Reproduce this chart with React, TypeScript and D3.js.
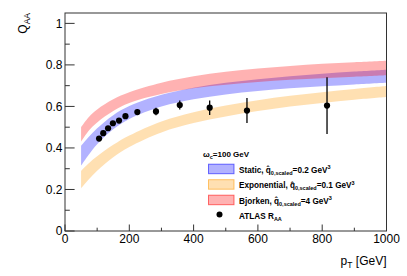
import React from "react";
import * as d3 from "d3";

const W = 407;
const H = 276;

const bandPt = [50, 75, 100, 150, 200, 300, 400, 500, 600, 700, 800, 900, 1000];
const staticHi = [0.41, 0.455, 0.495, 0.558, 0.602, 0.656, 0.69, 0.714, 0.731, 0.745, 0.757, 0.768, 0.777];
const staticLo = [0.315, 0.37, 0.418, 0.49, 0.54, 0.6, 0.635, 0.658, 0.674, 0.687, 0.697, 0.706, 0.714];
const expoHi = [0.29, 0.328, 0.36, 0.415, 0.46, 0.528, 0.572, 0.604, 0.63, 0.651, 0.668, 0.684, 0.698];
const expoLo = [0.205, 0.25, 0.29, 0.355, 0.405, 0.475, 0.52, 0.552, 0.578, 0.6, 0.617, 0.632, 0.645];
const bjHi = [0.5, 0.55, 0.585, 0.634, 0.668, 0.714, 0.745, 0.767, 0.783, 0.795, 0.805, 0.813, 0.82];
const bjLo = [0.43, 0.485, 0.523, 0.578, 0.617, 0.66, 0.688, 0.705, 0.718, 0.728, 0.736, 0.743, 0.75];

const atlasPt = [106, 119, 134, 149, 168, 188, 225, 283, 357, 450, 566, 815];
const atlasR = [0.445, 0.471, 0.495, 0.519, 0.532, 0.553, 0.573, 0.576, 0.607, 0.594, 0.58, 0.604];
const atlasErr = [0.01, 0.01, 0.01, 0.01, 0.01, 0.01, 0.013, 0.018, 0.022, 0.035, 0.06, 0.137];

const xMajor = [0, 200, 400, 600, 800, 1000];
const xMinor = [100, 300, 500, 700, 900];
const yMajor = [0, 0.2, 0.4, 0.6, 0.8, 1];
const yMinor = [0.1, 0.3, 0.5, 0.7, 0.9];

const L = 65, R = 386.5, T = 13, B = 231;

export default function App() {
  const x = d3.scaleLinear().domain([0, 1000]).range([L, R]);
  const y = d3.scaleLinear().domain([0, 1.05]).range([B, T]);
  const band = (hi: number[], lo: number[]) =>
    d3
      .area<number>()
      .x((d) => x(d))
      .y0((_, i) => y(lo[i]))
      .y1((_, i) => y(hi[i]))
      .curve(d3.curveCatmullRom.alpha(0.5))(bandPt) || "";

  const axisCol = "#333";
  const font = "'Liberation Sans', Arial, Helvetica, sans-serif";
  const lx = 208.5, lw = 25.5, lh = 9.5;
  const rows = [172.5, 188, 203.5, 219];

  const legendItems = [
    { name: "Static", val: "0.2", col: "#0000ff" },
    { name: "Exponential", val: "0.1", col: "#ff9900" },
    { name: "Bjorken", val: "4", col: "#ff0000" },
  ];

  return (
    <svg width={W} height={H} style={{ position: "absolute", left: 0, top: 0, background: "#fff" }} fontFamily={font}>
      <rect width={W} height={H} fill="#fff" />
      <path d={band(staticHi, staticLo)} fill="#0000ff" fillOpacity={0.3} />
      <path d={band(expoHi, expoLo)} fill="#ff9900" fillOpacity={0.3} />
      <path d={band(bjHi, bjLo)} fill="#ff0000" fillOpacity={0.3} />

      {atlasPt.map((p, i) => (
        <g key={i}>
          <line x1={x(p)} x2={x(p)} y1={y(atlasR[i] - atlasErr[i])} y2={y(atlasR[i] + atlasErr[i])} stroke="#000" strokeWidth={1.3} />
          <circle cx={x(p)} cy={y(atlasR[i])} r={3.1} fill="#000" />
        </g>
      ))}

      <rect x={L} y={T} width={R - L} height={B - T} fill="none" stroke={axisCol} strokeWidth={1} />
      {xMajor.map((v) => (
        <line key={"xm" + v} x1={x(v)} x2={x(v)} y1={B} y2={B - 6.5} stroke={axisCol} />
      ))}
      {xMinor.map((v) => (
        <line key={"xn" + v} x1={x(v)} x2={x(v)} y1={B} y2={B - 3.3} stroke={axisCol} />
      ))}
      {yMajor.map((v) => (
        <line key={"ym" + v} x1={L} x2={L + 9.6} y1={y(v)} y2={y(v)} stroke={axisCol} />
      ))}
      {yMinor.map((v) => (
        <line key={"yn" + v} x1={L} x2={L + 4.8} y1={y(v)} y2={y(v)} stroke={axisCol} />
      ))}
      {xMajor.map((v) => (
        <text key={"xl" + v} x={x(v)} y={243} fontSize={12} textAnchor="middle" fill="#000">
          {String(v)}
        </text>
      ))}
      {yMajor.map((v) => (
        <text key={"yl" + v} x={62.5} y={y(v) + 4.2} fontSize={12} textAnchor="end" fill="#000">
          {String(v)}
        </text>
      ))}

      <text x={R} y={265} fontSize={12} textAnchor="end" fill="#000">
        p<tspan fontSize={8.5} dy={3}>T</tspan>
        <tspan dy={-3}> [GeV]</tspan>
      </text>
      <text transform={`translate(27,13) rotate(-90)`} fontSize={12} textAnchor="end" fill="#000">
        Q<tspan fontSize={8.5} dy={3}>AA</tspan>
      </text>

      <g fontWeight="bold" fill="#000">
        <text x={203} y={157} fontSize={8}>
          ω<tspan fontSize={5.5} dy={2}>c</tspan>
          <tspan dy={-2}>=100 GeV</tspan>
        </text>
        {legendItems.map((it, i) => (
          <g key={it.name}>
            <rect
              x={lx}
              y={rows[i] - 8.3}
              width={lw}
              height={lh}
              fill={it.col}
              fillOpacity={0.3}
              stroke={it.col}
              strokeOpacity={0.55}
              strokeWidth={1}
            />
            <text x={239} y={rows[i]} fontSize={8.2}>
              {it.name}, q̂<tspan fontSize={5.5} dy={2}>0,scaled</tspan>
              <tspan dy={-2}>={it.val} GeV</tspan>
              <tspan fontSize={5.5} dy={-3.5}>3</tspan>
            </text>
          </g>
        ))}
        <circle cx={219.5} cy={rows[3] - 4.5} r={3} fill="#000" />
        <text x={239} y={rows[3]} fontSize={8.2}>
          ATLAS R<tspan fontSize={5.5} dy={2}>AA</tspan>
        </text>
      </g>
    </svg>
  );
}
